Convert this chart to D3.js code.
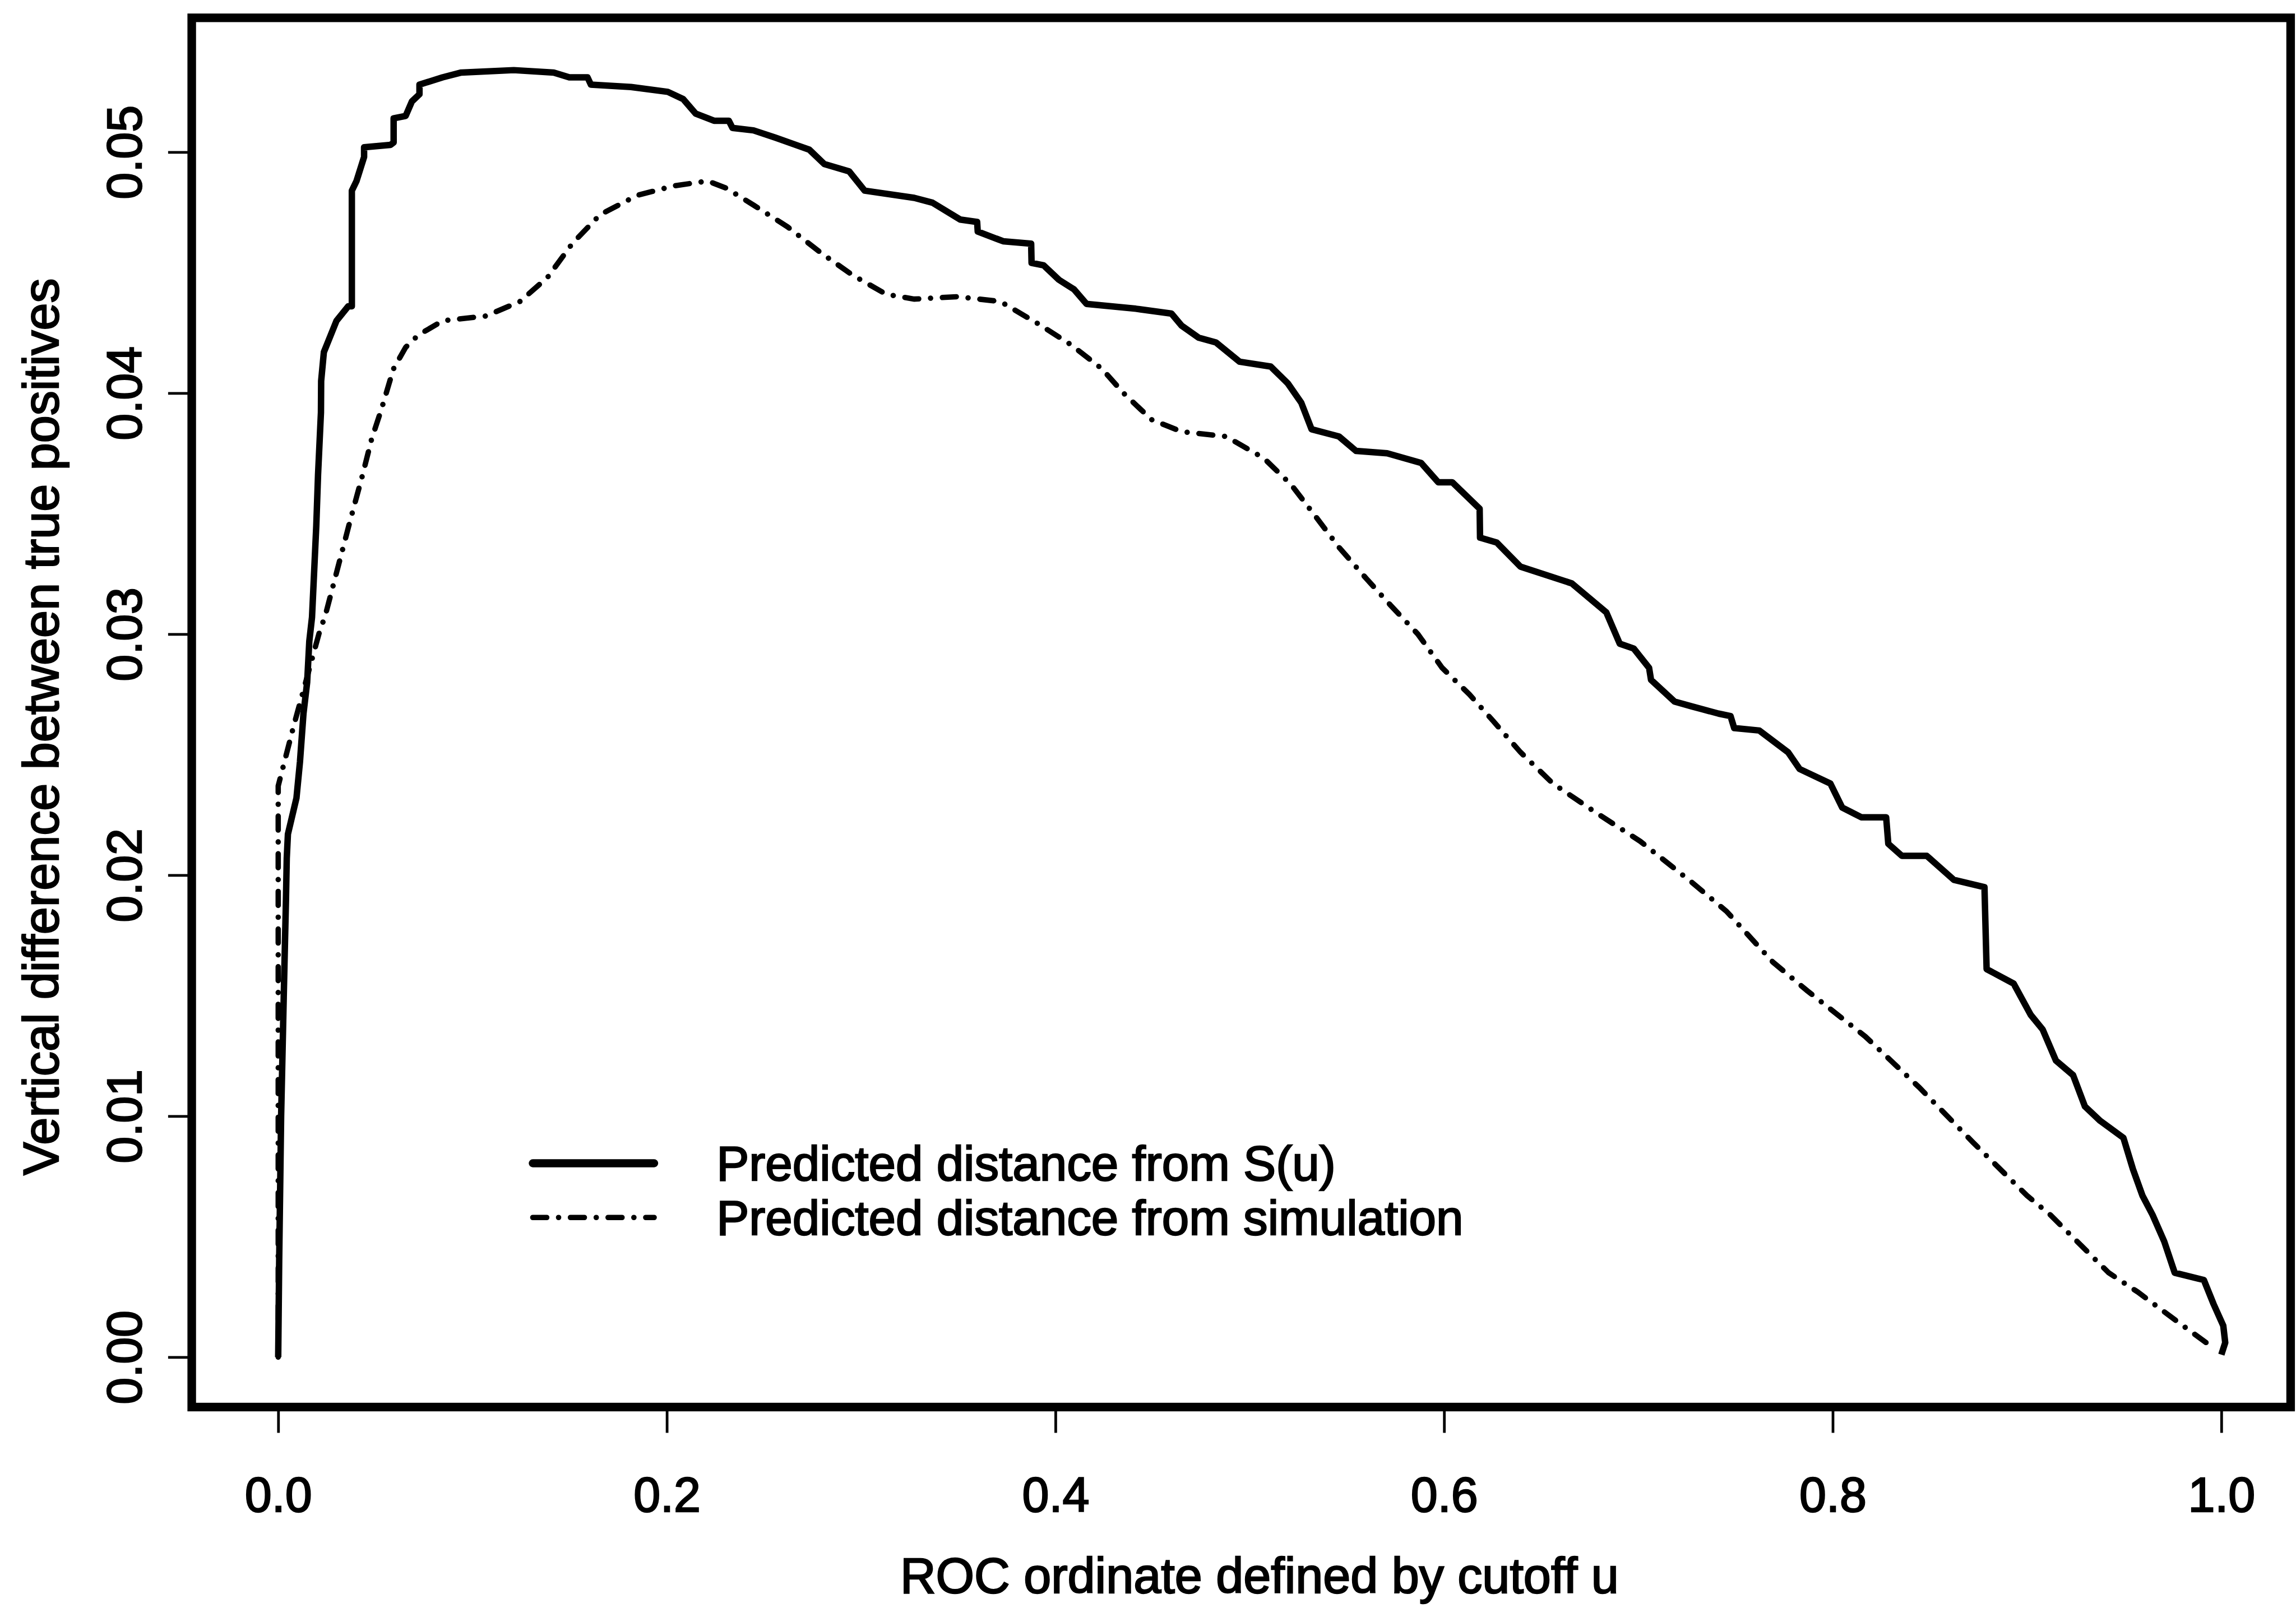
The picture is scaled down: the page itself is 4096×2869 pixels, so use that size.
<!DOCTYPE html>
<html>
<head>
<meta charset="utf-8">
<script src="https://cdn.jsdelivr.net/npm/d3@7"></script>
<style>
  body { margin: 0; background: #fff; }
  text { font-family: "Liberation Sans", Arial, Helvetica, sans-serif; fill: #000; stroke: #000; stroke-width: 2.5px; }
</style>
</head>
<body>
<div id="viz"></div>
<script>
// ROC ordinate u and vertical difference
const solidU = [0, 0.0005, 0.0015, 0.003, 0.004, 0.0044, 0.005, 0.0094, 0.0112, 0.013, 0.0149, 0.016, 0.0174,
  0.0196, 0.0205, 0.022, 0.0221, 0.0235, 0.03, 0.036, 0.0379, 0.0379, 0.0403, 0.0442, 0.0442, 0.0578, 0.0594,
  0.0594, 0.0656, 0.0688, 0.0727, 0.0727, 0.0846, 0.0942, 0.1212, 0.1418, 0.1498, 0.1592, 0.1609, 0.1816,
  0.2005, 0.2084, 0.2148, 0.2243, 0.2319, 0.2338, 0.2446, 0.2558, 0.2733, 0.2811, 0.2938, 0.3018, 0.3273,
  0.3367, 0.351, 0.3597, 0.36, 0.3731, 0.3875, 0.3877, 0.3939, 0.4018, 0.4096, 0.416, 0.4414, 0.4597, 0.4649,
  0.4737, 0.4826, 0.4948, 0.5108, 0.5196, 0.5265, 0.5318, 0.5459, 0.5547, 0.5707, 0.5882, 0.597, 0.6042,
  0.6183, 0.6185, 0.6271, 0.6393, 0.6658, 0.6835, 0.6904, 0.6976, 0.7055, 0.7065, 0.7186, 0.7275, 0.7413,
  0.7474, 0.7493, 0.7622, 0.777, 0.783, 0.7988, 0.8049, 0.8147, 0.8275, 0.8286, 0.8356, 0.8484, 0.8624,
  0.8781, 0.8792, 0.8931, 0.9019, 0.908, 0.9149, 0.9237, 0.9298, 0.9377, 0.9496, 0.9545, 0.9594, 0.9646,
  0.9706, 0.976, 0.991, 0.996, 1.001, 1.002, 1.0];
const solidD = [0, 0.004, 0.01, 0.0155, 0.019, 0.0207, 0.0217, 0.0232, 0.0247, 0.0267, 0.028, 0.0297, 0.0307,
  0.0345, 0.0366, 0.0392, 0.0405, 0.0417, 0.043, 0.0436, 0.0436, 0.0484, 0.0488, 0.0498, 0.0502, 0.0503, 0.0504,
  0.0514, 0.0515, 0.0521, 0.0524, 0.0528, 0.0531, 0.0533, 0.0534, 0.0533, 0.0531, 0.0531, 0.0528, 0.0527,
  0.0525, 0.0522, 0.0516, 0.0513, 0.0513, 0.051, 0.0509, 0.0506, 0.0501, 0.0495, 0.0492, 0.0484, 0.0481,
  0.0479, 0.0472, 0.0471, 0.0467, 0.0463, 0.0462, 0.0454, 0.0453, 0.0447, 0.0443, 0.0437, 0.0435, 0.0433, 0.0428,
  0.0423, 0.0421, 0.0413, 0.0411, 0.0404, 0.0396, 0.0385, 0.0382, 0.0376, 0.0375, 0.0371, 0.0363, 0.0363,
  0.0352, 0.034, 0.0338, 0.0328, 0.0321, 0.0309, 0.0296, 0.0294, 0.0286, 0.0281, 0.0272, 0.027, 0.0267,
  0.0266, 0.0261, 0.026, 0.0251, 0.0244, 0.0238, 0.0228, 0.0224, 0.0224, 0.0213, 0.0208, 0.0208, 0.0198,
  0.0195, 0.0161, 0.0155, 0.0142, 0.0136, 0.0123, 0.0117, 0.0104, 0.0098, 0.0091, 0.0078, 0.0067, 0.0059,
  0.0048, 0.0035, 0.0032, 0.0022, 0.0013, 0.0006, 0.0001];

const simU = [0, 0, 0.0032, 0.008, 0.0216, 0.024, 0.037, 0.0434, 0.0481, 0.053, 0.0593, 0.0656, 0.072, 0.0846,
  0.107, 0.1244, 0.1386, 0.1513, 0.1656, 0.1846, 0.2037, 0.2211, 0.2307, 0.2446, 0.2621, 0.2796, 0.2955,
  0.3129, 0.3273, 0.3494, 0.3716, 0.3906, 0.4081, 0.424, 0.435, 0.4494, 0.4649, 0.4878, 0.5072, 0.5213,
  0.5337, 0.5459, 0.56, 0.5724, 0.5865, 0.599, 0.613, 0.6252, 0.6393, 0.656, 0.678, 0.701, 0.7275, 0.7453,
  0.7691, 0.7869, 0.8168, 0.8444, 0.8723, 0.9, 0.912, 0.942, 0.957, 0.9786, 0.9956];
const simD = [0, 0.0237, 0.0247, 0.0262, 0.0302, 0.0307, 0.0347, 0.0366, 0.0381, 0.0393, 0.041, 0.0419, 0.0424,
  0.043, 0.0432, 0.0438, 0.0448, 0.0462, 0.0474, 0.0482, 0.0486, 0.0488, 0.0485, 0.0478, 0.0469, 0.0458,
  0.0449, 0.0441, 0.0439, 0.044, 0.0438, 0.0429, 0.042, 0.041, 0.04, 0.0389, 0.0384, 0.0382, 0.0373, 0.0362,
  0.0349, 0.0336, 0.0323, 0.0312, 0.03, 0.0286, 0.0275, 0.0264, 0.0251, 0.0238, 0.0226, 0.0214, 0.0197,
  0.0185, 0.0164, 0.0152, 0.0133, 0.0112, 0.0089, 0.0067, 0.0059, 0.0035, 0.0027, 0.0014, 0.0004];

const xTicks = [0, 0.2, 0.4, 0.6, 0.8, 1.0];
const yTicks = [0, 0.01, 0.02, 0.03, 0.04, 0.05];
const legendLabels = ["Predicted distance from S(u)", "Predicted distance from simulation"];

// drawn in the reference's own pixel space, the viewBox shrinks it to the window
const W = 4275, H = 2994;
const box = {left: 357, right: 4265, top: 33, bottom: 2620};

const svg = d3.select("#viz")
  .append("svg")
    .attr("width", 4096)
    .attr("height", 2869)
    .attr("viewBox", `0 0 ${W} ${H}`);

const x = d3.scaleLinear().domain([0, 1]).range([518, 4136]);
const y = d3.scaleLinear().domain([0, 0.05]).range([2527, 283]);

// x axis
const xAxis = svg.append("g")
    .attr("transform", `translate(0,${box.bottom})`)
    .call(d3.axisBottom(x).tickValues(xTicks).tickFormat(d3.format(".1f"))
      .tickSize(48).tickPadding(83));
xAxis.select(".domain").remove();
xAxis.selectAll(".tick line").attr("stroke", "#000").attr("stroke-width", 5);
xAxis.selectAll(".tick text").attr("font-size", 90).attr("font-family", null);

// y axis, labels turned to read upward
const yAxis = svg.append("g")
    .attr("transform", `translate(${box.left},0)`)
    .call(d3.axisLeft(y).tickValues(yTicks).tickFormat(d3.format(".2f")).tickSize(44));
yAxis.select(".domain").remove();
yAxis.selectAll(".tick line").attr("stroke", "#000").attr("stroke-width", 5);
yAxis.selectAll(".tick text")
    .attr("font-size", 90)
    .attr("font-family", null)
    .attr("transform", "rotate(-90)")
    .attr("x", 0)
    .attr("y", -94)
    .attr("dy", 0)
    .attr("text-anchor", "middle");

// frame
svg.append("rect")
    .attr("x", box.left)
    .attr("y", box.top)
    .attr("width", box.right - box.left)
    .attr("height", box.bottom - box.top)
    .attr("fill", "none")
    .attr("stroke", "#000")
    .attr("stroke-width", 16);

const line = d3.line()
    .x(d => x(d[0]))
    .y(d => y(d[1]));

const solid = solidU.map((u, i) => [u, solidD[i]]);
const sim = simU.map((u, i) => [u, simD[i]]);
const dashDot = "26 22 0.1 22";

svg.append("path")
    .datum(sim)
    .attr("fill", "none")
    .attr("stroke", "#000")
    .attr("stroke-width", 10)
    .attr("stroke-linecap", "round")
    .attr("stroke-dasharray", dashDot)
    .attr("d", line);

svg.append("path")
    .datum(solid)
    .attr("fill", "none")
    .attr("stroke", "#000")
    .attr("stroke-width", 12)
    .attr("stroke-linejoin", "round")
    .attr("d", line);

// axis titles
svg.append("text")
    .attr("transform", "translate(2345,2966)")
    .attr("text-anchor", "middle")
    .attr("font-size", 92)
    .text("ROC ordinate defined by cutoff u");

svg.append("text")
    .attr("transform", "translate(109,1353) rotate(-90)")
    .attr("text-anchor", "middle")
    .attr("font-size", 92)
    .text("Vertical difference between true positives");

// legend
const legend = svg.append("g");
const legendY = [2166, 2267];
legend.selectAll("line")
  .data(legendLabels)
  .join("line")
    .attr("x1", 992).attr("x2", 1218)
    .attr("y1", (d, i) => legendY[i]).attr("y2", (d, i) => legendY[i])
    .attr("stroke", "#000")
    .attr("stroke-width", (d, i) => i ? 10 : 15)
    .attr("stroke-linecap", "round")
    .attr("stroke-dasharray", (d, i) => i ? dashDot : null);
legend.selectAll("text")
  .data(legendLabels)
  .join("text")
    .attr("x", 1334)
    .attr("y", (d, i) => legendY[i] + 32)
    .attr("font-size", 91)
    .text(d => d);
</script>
</body>
</html>
